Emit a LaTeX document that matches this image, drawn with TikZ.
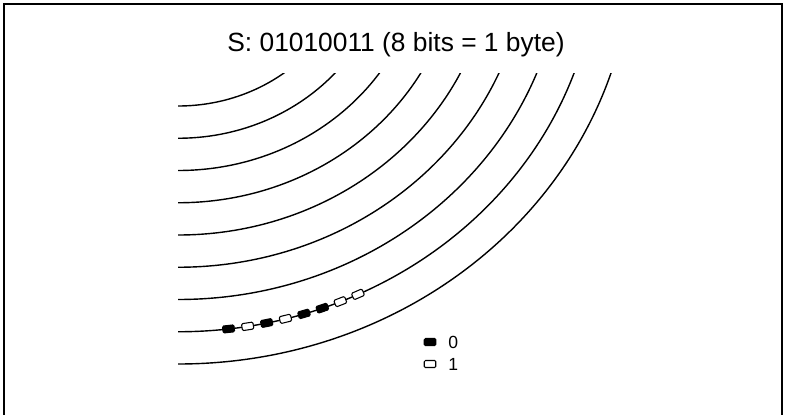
\documentclass[tikz,border=0pt]{standalone}
\usepackage{fontspec}
\setmainfont{Liberation Sans}
\usetikzlibrary{positioning}

\tikzset{
  track/.style={line width=0.8pt},
  bit0/.style={draw, fill=black, rounded corners=0.7pt, line width=0.6pt,
               minimum width=0.23cm, minimum height=0.14cm, inner sep=0pt},
  bit1/.style={bit0, fill=white},
  keylabel/.style={font=\fontsize{10}{12}\selectfont},
}

\begin{document}
\begin{tikzpicture}[x=0.02cm, y=0.02cm]
  \useasboundingbox (0,0) rectangle (787,414);
  % frame, open at the bottom
  \draw[line width=1pt] (4,-10) -- (4,410) -- (782,410) -- (782,-10);
  \node[font=\fontsize{15}{18}\selectfont] (title) at (396,369)
    {S: 01010011 (8 bits = 1 byte)};
  % tracks round the spindle, upper left
  \begin{scope}
    \clip (178,0) rectangle (787,341);
    \foreach \i in {0,...,8}
      \draw[track] (178,469) ellipse [x radius={1.085*(161+32.25*\i)},
                                      y radius={161+32.25*\i}];
  \end{scope}
  % the bits of S on the eighth track
  \foreach \b [count=\k from 0] in {0,1,0,1,0,0,1,1}
    \node[bit\b, rotate={atan(0.9214*tan(6.92+2.64*\k))}] (b\k)
      at ({178+419.6*sin(6.92+2.64*\k)}, {469-386.75*cos(6.92+2.64*\k)}) {};
  % key
  \node[bit0] (key0) at (430,72) {};
  \node[bit1] (key1) at (430,50) {};
  \node[keylabel, right=0.12cm of key0] (lab0) {0};
  \node[keylabel, right=0.12cm of key1] (lab1) {1};
\end{tikzpicture}
\end{document}
